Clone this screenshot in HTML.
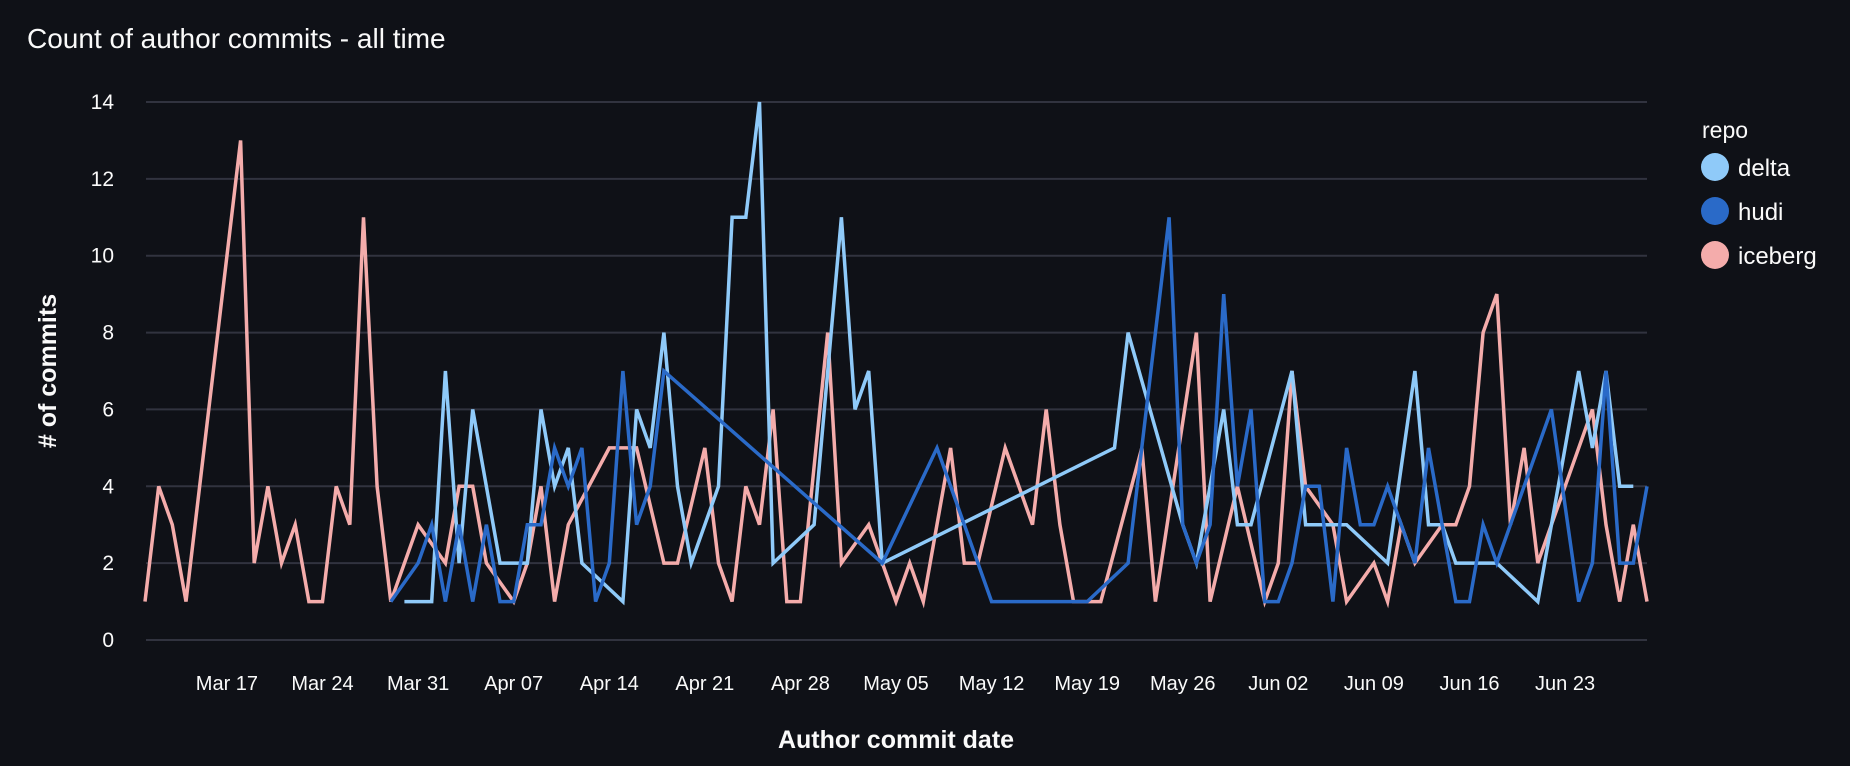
<!DOCTYPE html>
<html><head><meta charset="utf-8"><style>
html,body{margin:0;padding:0;background:#0f1117;}
svg{display:block;font-family:"Liberation Sans",sans-serif;}
</style></head><body>
<svg id="chart" width="1850" height="766" viewBox="0 0 1850 766" xmlns="http://www.w3.org/2000/svg">
<rect width="1850" height="766" fill="#0f1117"/>
<text x="27" y="48" font-size="28" fill="#fafafa">Count of author commits - all time</text>
<g id="grid"></g>
<g id="yticks"></g>
<g id="xticks"></g>
<g id="lines"></g>
<text x="56" y="371" font-size="25" font-weight="bold" fill="#fafafa" text-anchor="middle" transform="rotate(-90 56 371)"># of commits</text>
<text x="896" y="748" font-size="25" font-weight="bold" fill="#fafafa" text-anchor="middle">Author commit date</text>
<g>
<text x="1702" y="138" font-size="23" fill="#fafafa">repo</text>
<g><circle cx="1715" cy="167" r="14" fill="#8fcaf9"/><text x="1738" y="176" font-size="24" fill="#fafafa">delta</text></g>
<g><circle cx="1715" cy="211" r="14" fill="#2a6ac8"/><text x="1738" y="220" font-size="24" fill="#fafafa">hudi</text></g>
<g><circle cx="1715" cy="255" r="14" fill="#f4acab"/><text x="1738" y="264" font-size="24" fill="#fafafa">iceberg</text></g>
</g>
</svg>
<script>
const startDate = "2024-03-11";
const totalDays = 110;
const yTicks = [0,2,4,6,8,10,12,14];
const xTickLabels = ["Mar 17","Mar 24","Mar 31","Apr 07","Apr 14","Apr 21","Apr 28","May 05","May 12","May 19","May 26","Jun 02","Jun 09","Jun 16","Jun 23"];
const xTickDays = [6,13,20,27,34,41,48,55,62,69,76,83,90,97,104];

const deltaDays = [19,21,22,23,24,26,27,28,29,30,31,32,35,36,37,38,39,40,42,43,44,45,46,49,51,52,53,54,71,72,76,77,79,80,81,84,85,86,87,88,91,93,94,95,96,99,102,105,106,107,108,109];
const deltaValues = [1,1,7,2,6,2,2,2,6,4,5,2,1,6,5,8,4,2,4,11,11,14,2,3,11,6,7,2,5,8,3,2,6,3,3,7,3,3,3,3,2,7,3,3,2,2,1,7,5,7,4,4];

const hudiDays = [18,20,21,22,23,24,25,26,27,28,29,30,31,32,33,34,35,36,37,38,54,58,62,63,64,65,66,67,68,69,72,75,76,77,78,79,80,81,82,83,84,85,86,87,88,89,90,91,93,94,96,97,98,99,103,105,106,107,108,109,110];
const hudiValues = [1,2,3,1,3,1,3,1,1,3,3,5,4,5,1,2,7,3,4,7,2,5,1,1,1,1,1,1,1,1,2,11,3,2,3,9,4,6,1,1,2,4,4,1,5,3,3,4,2,5,1,1,3,2,6,1,2,7,2,2,4];

const icebergDays = [0,1,2,3,7,8,9,10,11,12,13,14,15,16,17,18,20,22,23,24,25,27,28,29,30,31,34,35,36,38,39,41,42,43,44,45,46,47,48,50,51,53,54,55,56,57,59,60,61,63,65,66,67,68,69,70,73,74,77,78,80,82,83,84,85,87,88,90,91,92,93,95,96,97,98,99,100,101,102,106,107,108,109,110];
const icebergValues = [1,4,3,1,13,2,4,2,3,1,1,4,3,11,4,1,3,2,4,4,2,1,2,4,1,3,5,5,5,2,2,5,2,1,4,3,6,1,1,8,2,3,2,1,2,1,5,2,2,5,3,6,3,1,1,1,5,1,8,1,4,1,2,7,4,3,1,2,1,3,2,3,3,4,8,9,3,5,2,6,3,1,3,1];

const NS = "http://www.w3.org/2000/svg";
const X0 = 145, X1 = 1647, Y0 = 640, Y1 = 102, YMAX = 14;
function xScale(d){ return X0 + d * (X1 - X0) / totalDays; }
function yScale(v){ return Y0 - v * (Y0 - Y1) / YMAX; }

const grid = document.getElementById('grid');
const yt = document.getElementById('yticks');
yTicks.forEach(v => {
  const l = document.createElementNS(NS,'line');
  l.setAttribute('x1', 146); l.setAttribute('x2', 1647);
  l.setAttribute('y1', yScale(v)); l.setAttribute('y2', yScale(v));
  l.setAttribute('stroke', '#31333f'); l.setAttribute('stroke-width', 2);
  
  
  grid.appendChild(l);
  const t = document.createElementNS(NS,'text');
  t.setAttribute('x', 114); t.setAttribute('y', yScale(v) + 7);
  t.setAttribute('text-anchor', 'end'); t.setAttribute('font-size', 21); t.setAttribute('fill', '#fafafa');
  t.textContent = v;
  
  
  yt.appendChild(t);
});
const xt = document.getElementById('xticks');
xTickLabels.forEach((lab, i) => {
  const t = document.createElementNS(NS,'text');
  t.setAttribute('x', xScale(xTickDays[i])); t.setAttribute('y', 690);
  t.setAttribute('text-anchor', 'middle'); t.setAttribute('font-size', 20); t.setAttribute('fill', '#fafafa');
  t.textContent = lab;
  
  
  xt.appendChild(t);
});
const lines = document.getElementById('lines');
function drawSeries(days, vals, color, name){
  const p = document.createElementNS(NS,'polyline');
  p.setAttribute('points', days.map((d,i)=> xScale(d).toFixed(1)+','+yScale(vals[i]).toFixed(1)).join(' '));
  p.setAttribute('fill','none'); p.setAttribute('stroke', color); p.setAttribute('stroke-width', 3.5);
  p.setAttribute('stroke-linejoin','miter');
  
  
  lines.appendChild(p);
}
drawSeries(icebergDays, icebergValues, '#f4acab', 'iceberg-line');
drawSeries(deltaDays, deltaValues, '#8fcaf9', 'delta-line');
drawSeries(hudiDays, hudiValues, '#2a6ac8', 'hudi-line');
</script>
</body></html>
